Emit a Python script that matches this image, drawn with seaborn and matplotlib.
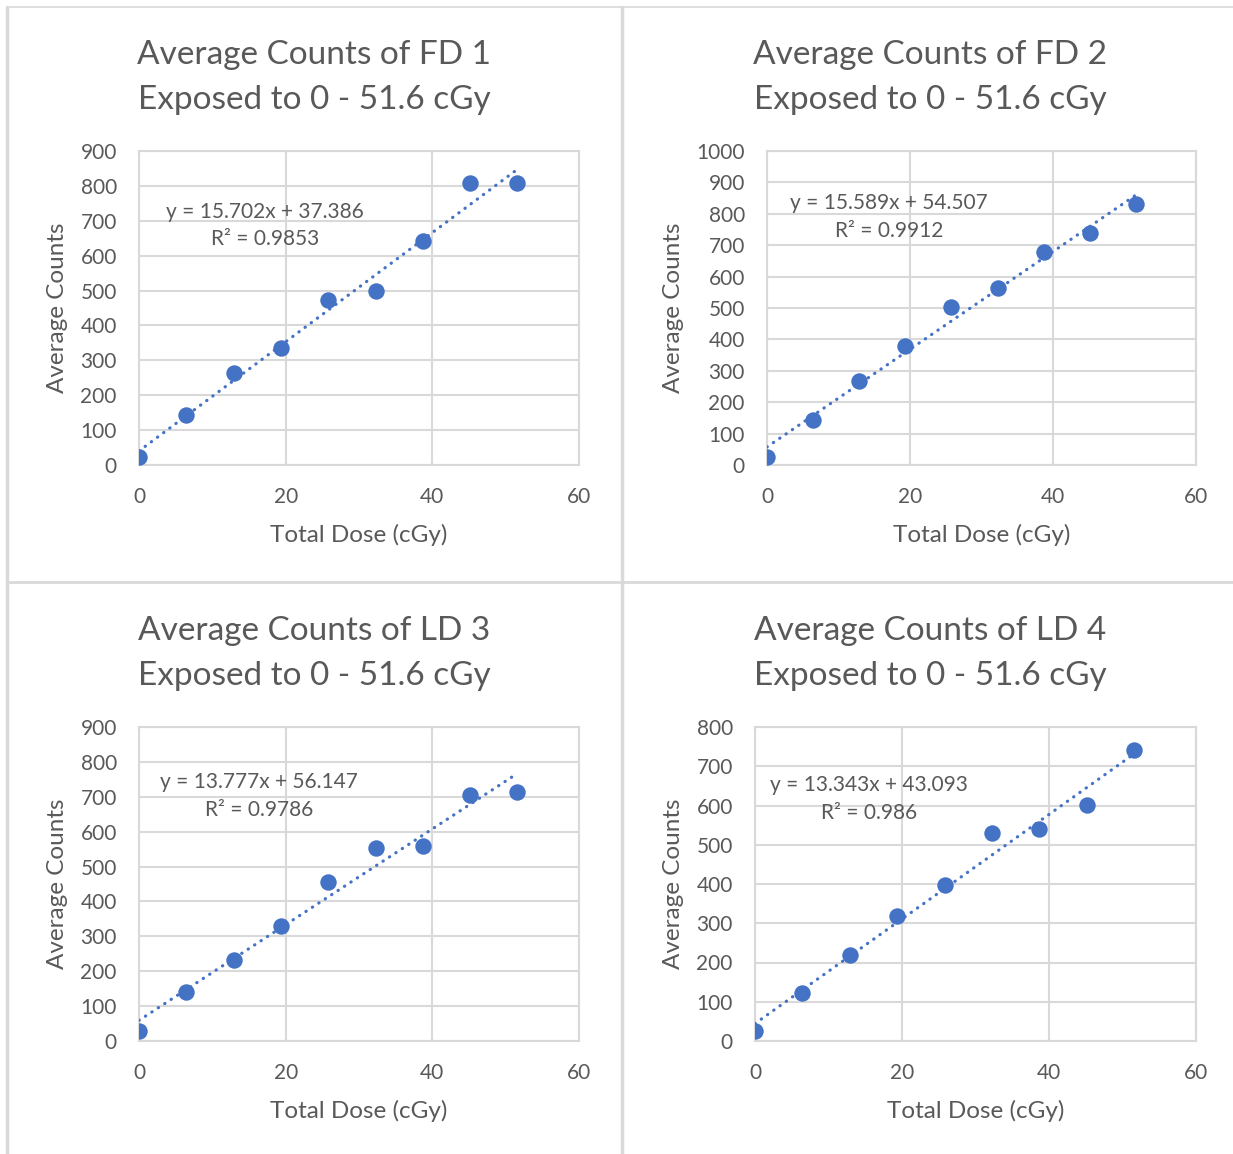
import matplotlib
matplotlib.use("Agg")
import matplotlib.pyplot as plt
import seaborn as sns
import numpy as np

# ---------------- data ----------------
dose = [0, 6.45, 12.9, 19.35, 25.8, 32.25, 38.7, 45.15, 51.6]

fd1 = [23, 143, 264, 335, 473, 499, 642, 808, 808]
fd2 = [25, 143, 267, 379, 503, 564, 678, 739, 831]
ld3 = [29, 140, 232, 330, 456, 553, 559, 705, 713]
ld4 = [25, 122, 219, 318, 397, 530, 540, 601, 741]

series = [fd1, fd2, ld3, ld4]
names = ["FD 1", "FD 2", "LD 3", "LD 4"]
equations = ["y = 15.702x + 37.386\nR² = 0.9853",
             "y = 15.589x + 54.507\nR² = 0.9912",
             "y = 13.777x + 56.147\nR² = 0.9786",
             "y = 13.343x + 43.093\nR² = 0.986"]
ymaxes = [900, 1000, 900, 800]
xticks = [0, 20, 40, 60]

# ---------------- style ----------------
sns.set_theme(style="white")
plt.rcParams['font.family'] = ['Lato', 'DejaVu Sans']
TXT = "#595959"
GRID = "#d9d9d9"
BLUE = "#4472C4"

W, H = 1233, 1154
fig = plt.figure(figsize=(W / 100, H / 100), dpi=100)
fig.patch.set_facecolor("white")

# plot-area rectangles in pixels: left, top, right, bottom
rects = [(139, 151, 579, 465), (767, 151, 1196, 465),
         (139, 727, 579, 1041), (755, 727, 1196, 1041)]
title_cx = [314, 930, 314, 930]
title_y = [(55, 100), (55, 100), (631, 676), (631, 676)]
eq_pos = [(0.286, 0.764), (0.284, 0.79), (0.273, 0.78), (0.259, 0.771)]
ylab_x = [58, 674, 58, 674]
xlab_y = [535, 535, 1111, 1111]

for i in range(4):
    l, t, r, b = rects[i]
    ax = fig.add_axes([l / W, 1 - b / H, (r - l) / W, (b - t) / H])
    ax.set_facecolor("white")
    sns.regplot(x=dose, y=series[i], ax=ax, ci=None,
                scatter_kws=dict(s=140, color=BLUE, linewidths=0, alpha=1, zorder=4),
                line_kws=dict(color=BLUE, lw=2.3, linestyle=(0, (0.1, 2.3)),
                              dash_capstyle='round', zorder=3))
    ax.set_xlim(0, 60)
    ax.set_ylim(0, ymaxes[i])
    ax.set_xticks(xticks)
    ax.set_yticks(np.arange(0, ymaxes[i] + 1, 100))
    ax.grid(True, color=GRID, lw=1.5, zorder=0)
    ax.set_axisbelow(True)
    for sp in ax.spines.values():
        sp.set_visible(True)
        sp.set_color(GRID)
        sp.set_linewidth(1.5)
    ax.tick_params(axis='both', length=0, labelsize=15, labelcolor=TXT, pad=16)
    ax.set_xlabel("Total Dose (cGy)", fontsize=17.5, color=TXT)
    ax.set_ylabel("Average Counts", fontsize=17.5, color=TXT)
    ax.xaxis.set_label_coords(0.5, (b - xlab_y[i]) / (b - t))
    ax.xaxis.label.set_va('center')
    ax.yaxis.set_label_coords((ylab_x[i] - l) / (r - l), 0.5)
    ax.yaxis.label.set_va('center')
    ax.text(eq_pos[i][0], eq_pos[i][1], equations[i], transform=ax.transAxes,
            ha='center', va='center', multialignment='center', fontsize=15,
            color=TXT, linespacing=1.45, zorder=5)
    fig.text(title_cx[i] / W, 1 - title_y[i][0] / H, "Average Counts of " + names[i],
             ha='center', va='center', fontsize=24, color=TXT)
    fig.text(title_cx[i] / W, 1 - title_y[i][1] / H, "Exposed to 0 - 51.6 cGy",
             ha='center', va='center', fontsize=24, color=TXT)

# panel borders
line_kw = dict(color="#d9d9d9", transform=fig.transFigure)
fig.add_artist(plt.Line2D([7 / W, 7 / W], [0, 1 - 7 / H], lw=2.5, **line_kw))
fig.add_artist(plt.Line2D([7 / W, 1], [1 - 7 / H, 1 - 7 / H], lw=1.2, **line_kw))
fig.add_artist(plt.Line2D([622 / W, 622 / W], [0, 1 - 7 / H], lw=2.5, **line_kw))
fig.add_artist(plt.Line2D([7 / W, 1], [1 - 582 / H, 1 - 582 / H], lw=2, **line_kw))

fig.savefig("out.png", dpi=100, facecolor="white")
